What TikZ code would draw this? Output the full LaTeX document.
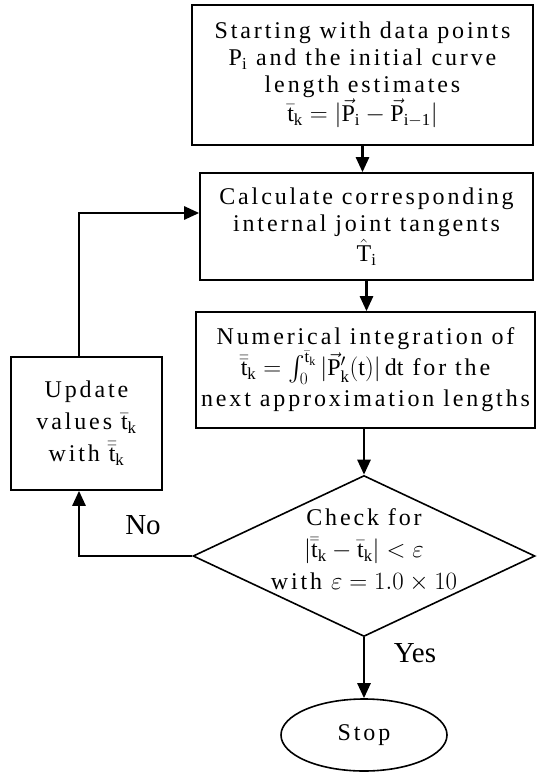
\documentclass[tikz,border=0pt]{standalone}
\usepackage{amsmath}
\usepackage{fontspec}
\setmainfont{Liberation Serif}[LetterSpace=12]
\newfontfamily\labfont{Liberation Serif}
\usetikzlibrary{shapes.geometric,arrows.meta}
\begin{document}
\begin{tikzpicture}[x=1pt,y=-1pt,
  box/.style={draw,line width=1.6pt,rectangle,inner sep=0pt,align=center,font=\fontsize{24}{27}\selectfont},
  txt/.style={align=center,inner sep=0pt,font=\fontsize{24}{32}\selectfont},
  arr/.style={line width=2.6pt,-{Triangle[length=15pt,width=13pt]}},
  lab/.style={inner sep=0pt,font=\labfont\fontsize{29}{29}\selectfont}]
\useasboundingbox (0,0) rectangle (540,773);
\node[box,minimum width=341pt,minimum height=140pt] (b1) at (362.5,75)
  {Starting with data points\\P$_{\mathrm i}$ and the initial curve\\length estimates\\$\bar{\mathrm t}_{\mathrm k}=|\vec{\mathrm P}_{\mathrm i}-\vec{\mathrm P}_{\mathrm{i-1}}|$};
\node[box,minimum width=333pt,minimum height=107pt] (b2) at (366.5,226.5)
  {Calculate corresponding\\internal joint tangents\\[2pt]$\hat{\mathrm T}_{\mathrm i}$};
\node[box,minimum width=339pt,minimum height=116pt,font=\fontsize{24}{31}\selectfont] (b3) at (365.5,370)
  {Numerical integration of\\$\bar{\bar{\mathrm t}}_{\mathrm k}=\int_0^{\bar{\mathrm t}_{\mathrm k}}|\vec{\mathrm P}_{\mathrm k}'(\mathrm t)|\,\mathrm{dt}$ for the\\next approximation lengths};
\node[draw,diamond,line width=1.6pt,minimum width=342pt,minimum height=161pt,inner sep=0pt] (dia) at (364,556) {};
\node[txt] (diat) at (364,550)
  {Check for\\$|\bar{\bar{\mathrm t}}_{\mathrm k}-\bar{\mathrm t}_{\mathrm k}|<\varepsilon$\\with $\varepsilon=1.0\times10$};
\node[draw,ellipse,line width=1.6pt,minimum width=166pt,minimum height=72pt,inner sep=0pt,font=\fontsize{24}{24}\selectfont] (stop) at (364,735) {Stop};
\node[box,minimum width=151pt,minimum height=133pt,font=\fontsize{24}{32}\selectfont] (upd) at (86.5,423.5)
  {Update\\values $\bar{\mathrm t}_{\mathrm k}$\\with $\bar{\bar{\mathrm t}}_{\mathrm k}$};
\node[lab] (no) at (143,525) {No};
\node[lab] (yes) at (415,653) {Yes};
\coordinate (lp) at (79,213);
\draw[arr] (b1.south) -- (b1.south |- b2.north);
\draw[arr] (b2.south) -- (b2.south |- b3.north);
\draw[arr] (dia.north |- b3.south) -- (dia.north);
\draw[arr] (dia.south) -- (stop.north);
\draw[arr] (upd.north -| lp) |- (b2.west |- lp);
\draw[arr] (dia.west) -| (upd.south -| lp);
\end{tikzpicture}
\end{document}
